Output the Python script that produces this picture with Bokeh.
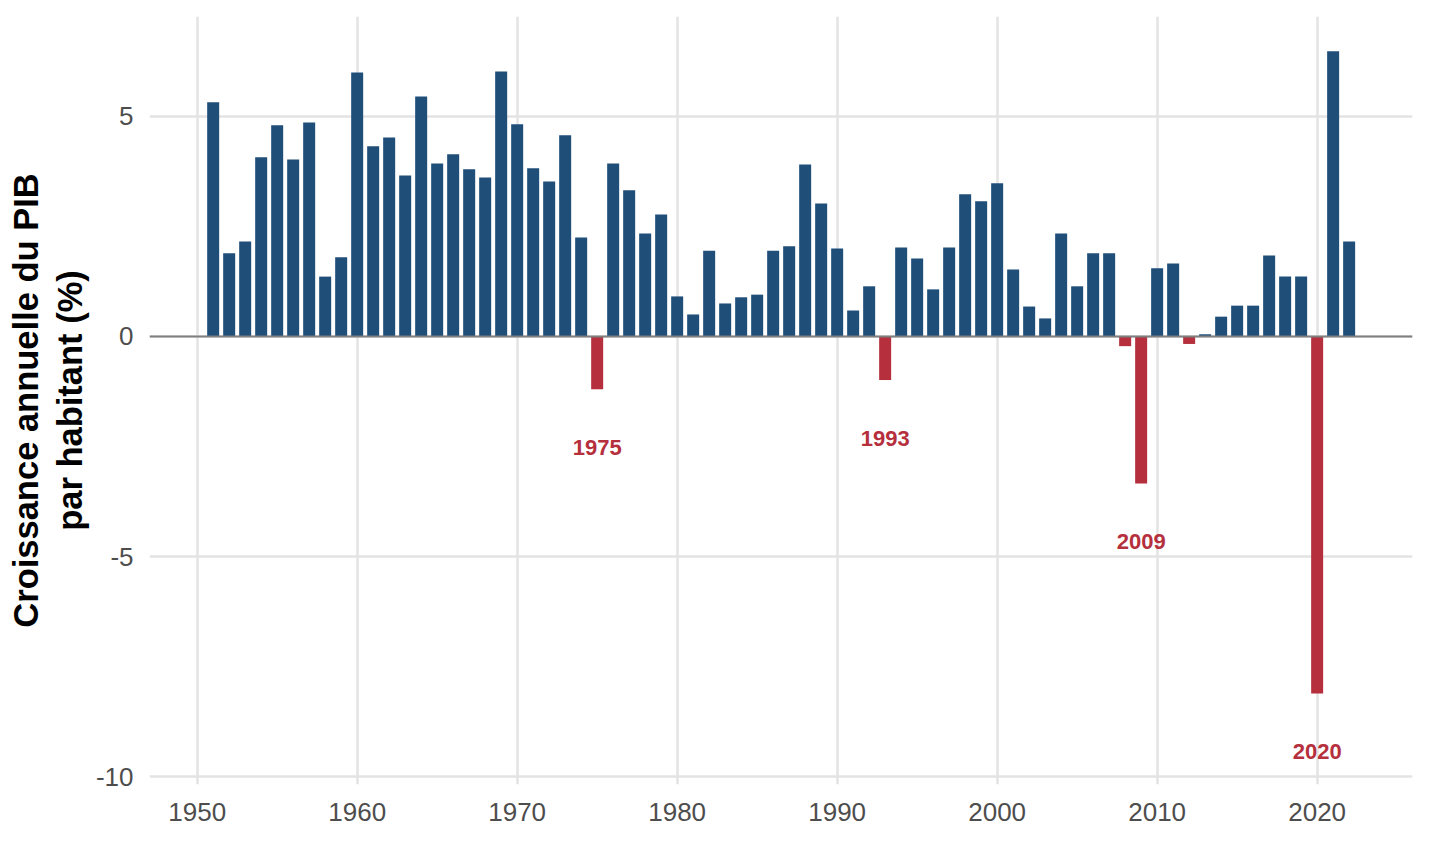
from bokeh.plotting import figure
from bokeh.models import ColumnDataSource, Span, FixedTicker, Range1d
from bokeh.embed import file_html
from bokeh.resources import INLINE
from bokeh.core.properties import value

years = list(range(1951, 2023))
growth = [
    5.32, 1.89, 2.16, 4.07, 4.80, 4.02, 4.86, 1.36, 1.80,          # 1951-1959
    6.00, 4.32, 4.52, 3.66, 5.45, 3.93, 4.14, 3.80, 3.61, 6.02,    # 1960-1969
    4.82, 3.82, 3.52, 4.57, 2.25, -1.20, 3.93, 3.32, 2.34, 2.77,   # 1970-1979
    0.91, 0.50, 1.95, 0.75, 0.89, 0.95, 1.95, 2.05, 3.91, 3.02,    # 1980-1989
    2.00, 0.59, 1.14, -0.99, 2.02, 1.77, 1.07, 2.02, 3.23, 3.07,   # 1990-1999
    3.48, 1.52, 0.68, 0.41, 2.34, 1.14, 1.89, 1.89, -0.22, -3.34,  # 2000-2009
    1.55, 1.66, -0.17, 0.05, 0.45, 0.70, 0.70, 1.84, 1.36, 1.36,   # 2010-2019
    -8.11, 6.48, 2.16,                                             # 2020-2022
]
label_years = [1975, 1993, 2009, 2020]
x_ticks = [1950, 1960, 1970, 1980, 1990, 2000, 2010, 2020]
y_ticks = [-10, -5, 0, 5]
y_tick_labels = ["-10", "-5", "0", "5"]

BLUE = "#1F4E79"
RED = "#B52F3D"
FONT = "Liberation Sans"

colors = [BLUE if v >= 0 else RED for v in growth]
src = ColumnDataSource(dict(x=years, top=growth, color=colors))

lab_vals = [growth[years.index(y)] for y in label_years]
lab_src = ColumnDataSource(dict(x=label_years, y=lab_vals, text=[str(y) for y in label_years]))

p = figure(width=1424, height=828, output_backend="svg", toolbar_location=None,
           x_range=Range1d(1947.02, 2025.96), y_range=Range1d(-10.18, 7.27),
           min_border_left=149, min_border_right=12, min_border_top=16, min_border_bottom=44)
p.outline_line_color = None
p.background_fill_color = "white"
p.border_fill_color = "white"

p.vbar(x="x", top="top", bottom=0, width=0.75, source=src,
       fill_color="color", line_color=None)

p.add_layout(Span(location=0, dimension="width", line_color="#7F7F7F", line_width=2))

p.text(x="x", y="y", text="text", source=lab_src, y_offset=58,
       text_align="center", text_baseline="middle",
       text_font=value(FONT), text_font_style="bold", text_font_size="22px",
       text_color=RED)

for g in (p.xgrid, p.ygrid):
    g.grid_line_color = "#E3E3E3"
    g.grid_line_width = 2.5
    g.minor_grid_line_color = None

p.xaxis.ticker = FixedTicker(ticks=x_ticks)
p.yaxis.ticker = FixedTicker(ticks=y_ticks)
p.yaxis.major_label_overrides = {t: s for t, s in zip(y_ticks, y_tick_labels)}
for ax in (p.xaxis, p.yaxis):
    ax.axis_line_color = None
    ax.major_tick_line_color = None
    ax.minor_tick_line_color = None
    ax.major_label_text_font = FONT
    ax.major_label_text_font_size = "26px"
    ax.major_label_text_color = "#4D4D4D"
p.xaxis.major_label_standoff = 12
p.yaxis.major_label_standoff = 10

p.yaxis.axis_label = "Croissance annuelle du PIB\npar habitant (%)"
p.yaxis.axis_label_text_font = FONT
p.yaxis.axis_label_text_font_style = "bold"
p.yaxis.axis_label_text_font_size = "34.5px"
p.yaxis.axis_label_text_color = "black"
p.yaxis.axis_label_standoff = 4
p.yaxis.axis_label_text_line_height = 1.15

open("out.html", "w").write(file_html(p, INLINE))
